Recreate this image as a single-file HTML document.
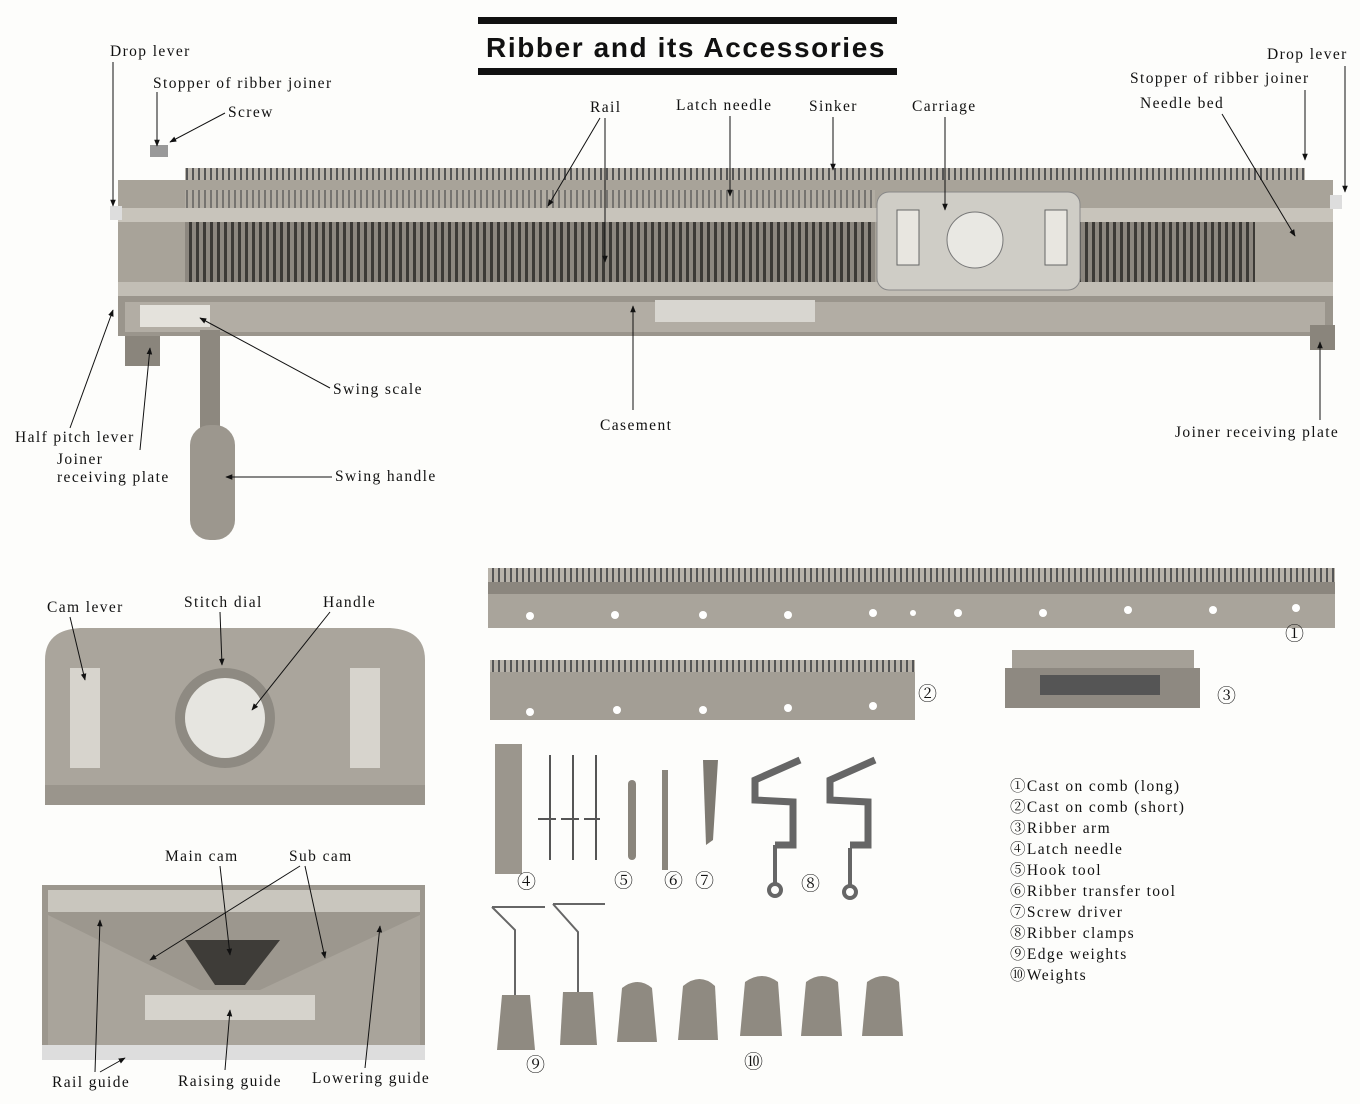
<!DOCTYPE html>
<html><head><meta charset="utf-8"><style>
html,body{margin:0;padding:0;background:#fff;}
svg{display:block;}
text{font-family:"Liberation Serif","Noto Serif CJK SC",serif;font-size:15.5px;letter-spacing:1.4px;fill:#111;}
.t{font-family:"Liberation Sans",sans-serif;font-size:28px;font-weight:bold;letter-spacing:1.6px;fill:#111;}
.c{font-size:19px;letter-spacing:0;}
</style></head><body>
<svg width="1360" height="1104" viewBox="0 0 1360 1104" xmlns="http://www.w3.org/2000/svg">
<defs>
<marker id="a" viewBox="0 0 10 10" refX="9" refY="5" markerWidth="7" markerHeight="7" orient="auto"><path d="M0,1 L10,5 L0,9 z" fill="#111"/></marker>
<pattern id="nd" width="7" height="10" patternUnits="userSpaceOnUse"><rect width="7" height="10" fill="#8c877f"/><rect x="0" width="3" height="10" fill="#3c3a36"/></pattern>
<pattern id="sk" width="6" height="10" patternUnits="userSpaceOnUse"><rect width="6" height="10" fill="#b8b3aa"/><rect width="2" height="10" fill="#555"/></pattern>
</defs>
<rect width="1360" height="1104" fill="#fdfdfb"/>
<rect x="478" y="17" width="419" height="7" fill="#111"/>
<rect x="478" y="68" width="419" height="7" fill="#111"/>
<text x="486" y="57" class="t">Ribber and its Accessories</text>

<rect x="185" y="168" width="1120" height="12" fill="url(#sk)"/>
<rect x="150" y="145" width="18" height="12" fill="#999"/>
<rect x="118" y="180" width="1215" height="120" fill="#a8a399"/>
<rect x="118" y="208" width="1215" height="14" fill="#c8c4bb"/>
<rect x="185" y="190" width="690" height="18" fill="url(#sk)" opacity="0.6"/>
<rect x="185" y="222" width="690" height="60" fill="url(#nd)"/>
<rect x="1080" y="222" width="175" height="60" fill="url(#nd)"/>
<rect x="118" y="282" width="1215" height="14" fill="#c2beb5"/>
<rect x="110" y="206" width="12" height="14" fill="#ddd"/>
<rect x="1330" y="195" width="12" height="14" fill="#ddd"/>
<rect x="118" y="296" width="1215" height="40" fill="#9a958c"/>
<rect x="125" y="302" width="1200" height="30" fill="#b2ada4"/>
<rect x="140" y="305" width="70" height="22" fill="#e4e2dc"/>
<rect x="655" y="300" width="160" height="22" fill="#d8d6d0"/>
<rect x="125" y="336" width="35" height="30" fill="#8a857c"/>
<rect x="1310" y="325" width="25" height="25" fill="#8a857c"/>
<rect x="877" y="192" width="203" height="98" rx="12" fill="#cfcdc6" stroke="#888"/>
<rect x="897" y="210" width="22" height="55" fill="#e8e6e0" stroke="#666"/>
<rect x="1045" y="210" width="22" height="55" fill="#e8e6e0" stroke="#666"/>
<circle cx="975" cy="240" r="28" fill="#e9e8e3" stroke="#777"/>
<rect x="200" y="330" width="20" height="100" fill="#8d887f"/>
<rect x="190" y="425" width="45" height="115" rx="20" fill="#9c978e"/>

<text x="110" y="56">Drop lever</text>
<line x1="113" y1="62" x2="113" y2="206" stroke="#111" marker-end="url(#a)"/>
<text x="153" y="88">Stopper of ribber joiner</text>
<line x1="157" y1="92" x2="157" y2="146" stroke="#111" marker-end="url(#a)"/>
<text x="228" y="117">Screw</text>
<line x1="225" y1="113" x2="170" y2="142" stroke="#111" marker-end="url(#a)"/>
<text x="590" y="112">Rail</text>
<line x1="600" y1="118" x2="548" y2="206" stroke="#111" marker-end="url(#a)"/>
<line x1="605" y1="118" x2="605" y2="262" stroke="#111" marker-end="url(#a)"/>
<text x="676" y="110">Latch needle</text>
<line x1="730" y1="116" x2="730" y2="196" stroke="#111" marker-end="url(#a)"/>
<text x="809" y="111">Sinker</text>
<line x1="833" y1="117" x2="833" y2="170" stroke="#111" marker-end="url(#a)"/>
<text x="912" y="111">Carriage</text>
<line x1="945" y1="117" x2="945" y2="210" stroke="#111" marker-end="url(#a)"/>
<text x="1267" y="59">Drop lever</text>
<line x1="1345" y1="66" x2="1345" y2="192" stroke="#111" marker-end="url(#a)"/>
<text x="1130" y="83">Stopper of ribber joiner</text>
<line x1="1305" y1="90" x2="1305" y2="160" stroke="#111" marker-end="url(#a)"/>
<text x="1140" y="108">Needle bed</text>
<line x1="1222" y1="114" x2="1295" y2="236" stroke="#111" marker-end="url(#a)"/>
<text x="15" y="442">Half pitch lever</text>
<line x1="70" y1="428" x2="113" y2="310" stroke="#111" marker-end="url(#a)"/>
<text x="57" y="464">Joiner</text>
<text x="57" y="482">receiving plate</text>
<line x1="140" y1="450" x2="150" y2="348" stroke="#111" marker-end="url(#a)"/>
<text x="333" y="394">Swing scale</text>
<line x1="330" y1="388" x2="200" y2="318" stroke="#111" marker-end="url(#a)"/>
<text x="600" y="430">Casement</text>
<line x1="633" y1="410" x2="633" y2="306" stroke="#111" marker-end="url(#a)"/>
<text x="1175" y="437">Joiner receiving plate</text>
<line x1="1320" y1="420" x2="1320" y2="342" stroke="#111" marker-end="url(#a)"/>
<text x="335" y="481">Swing handle</text>
<line x1="332" y1="477" x2="226" y2="477" stroke="#111" marker-end="url(#a)"/>

<path d="M45,660 Q45,630 80,628 L390,628 Q425,630 425,660 L425,805 L45,805 Z" fill="#aaa59c"/>
<rect x="45" y="785" width="380" height="20" fill="#9a958c"/>
<rect x="70" y="668" width="30" height="100" fill="#d7d4cd"/>
<rect x="350" y="668" width="30" height="100" fill="#d7d4cd"/>
<circle cx="225" cy="718" r="50" fill="#8e8a82"/>
<circle cx="225" cy="718" r="40" fill="#e6e5e0"/>
<text x="47" y="612">Cam lever</text>
<line x1="70" y1="617" x2="85" y2="680" stroke="#111" marker-end="url(#a)"/>
<text x="184" y="607">Stitch dial</text>
<line x1="220" y1="612" x2="222" y2="665" stroke="#111" marker-end="url(#a)"/>
<text x="323" y="607">Handle</text>
<line x1="330" y1="612" x2="252" y2="710" stroke="#111" marker-end="url(#a)"/>

<rect x="42" y="885" width="383" height="175" fill="#9c978e"/>
<rect x="48" y="890" width="372" height="22" fill="#c9c6be"/>
<path d="M48,915 L200,990 L260,990 L420,915 L420,1045 L48,1045 Z" fill="#a9a49b"/>
<path d="M185,940 L280,940 L245,985 L215,985 Z" fill="#3e3c38"/>
<rect x="145" y="995" width="170" height="25" fill="#d6d3cc"/>
<rect x="42" y="1045" width="383" height="15" fill="#ddd"/>
<text x="165" y="861">Main cam</text>
<line x1="220" y1="866" x2="230" y2="955" stroke="#111" marker-end="url(#a)"/>
<text x="289" y="861">Sub cam</text>
<line x1="300" y1="866" x2="150" y2="960" stroke="#111" marker-end="url(#a)"/>
<line x1="305" y1="866" x2="325" y2="958" stroke="#111" marker-end="url(#a)"/>
<text x="52" y="1087">Rail guide</text>
<line x1="95" y1="1072" x2="100" y2="920" stroke="#111" marker-end="url(#a)"/>
<line x1="100" y1="1072" x2="125" y2="1058" stroke="#111" marker-end="url(#a)"/>
<text x="178" y="1086">Raising guide</text>
<line x1="225" y1="1070" x2="230" y2="1010" stroke="#111" marker-end="url(#a)"/>
<text x="312" y="1083">Lowering guide</text>
<line x1="365" y1="1068" x2="380" y2="926" stroke="#111" marker-end="url(#a)"/>

<rect x="488" y="568" width="847" height="14" fill="url(#sk)"/>
<rect x="488" y="582" width="847" height="12" fill="#8b867e"/>
<rect x="488" y="594" width="847" height="34" fill="#a9a49b"/>
<g fill="#fff"><circle cx="530" cy="616" r="4"/><circle cx="615" cy="615" r="4"/><circle cx="703" cy="615" r="4"/><circle cx="788" cy="615" r="4"/><circle cx="873" cy="613" r="4"/><circle cx="913" cy="613" r="3"/><circle cx="958" cy="613" r="4"/><circle cx="1043" cy="613" r="4"/><circle cx="1128" cy="610" r="4"/><circle cx="1213" cy="610" r="4"/><circle cx="1296" cy="608" r="4"/></g>
<text x="1285" y="640" class="c">①</text>
<rect x="490" y="660" width="425" height="12" fill="url(#sk)"/>
<rect x="490" y="672" width="425" height="48" fill="#a39e95"/>
<g fill="#fff"><circle cx="530" cy="712" r="4"/><circle cx="617" cy="710" r="4"/><circle cx="703" cy="710" r="4"/><circle cx="788" cy="708" r="4"/><circle cx="873" cy="706" r="4"/></g>
<text x="918" y="700" class="c">②</text>
<rect x="1012" y="650" width="182" height="18" fill="#a5a097"/>
<rect x="1005" y="668" width="195" height="40" fill="#8e8981"/>
<rect x="1040" y="675" width="120" height="20" fill="#555"/>
<text x="1217" y="702" class="c">③</text>

<rect x="495" y="744" width="27" height="130" fill="#9b968d"/>
<g stroke="#555" stroke-width="2"><line x1="550" y1="755" x2="550" y2="860"/><line x1="573" y1="755" x2="573" y2="860"/><line x1="596" y1="755" x2="596" y2="860"/><line x1="538" y1="819" x2="556" y2="819"/><line x1="561" y1="819" x2="579" y2="819"/><line x1="584" y1="819" x2="600" y2="819"/></g>
<rect x="628" y="780" width="8" height="80" rx="4" fill="#8a857c"/>
<rect x="662" y="770" width="6" height="100" fill="#8a857c"/>
<path d="M703,760 L718,760 L713,840 L706,845 Z" fill="#7e7a72"/>
<g fill="none" stroke="#666" stroke-width="7"><path d="M800,760 L755,780 L755,800 L793,802 L793,845 L775,845"/><path d="M875,760 L830,780 L830,800 L868,802 L868,845 L850,845"/></g>
<g stroke="#666" stroke-width="4" fill="none"><line x1="775" y1="845" x2="775" y2="885"/><circle cx="775" cy="890" r="6"/><line x1="850" y1="848" x2="850" y2="885"/><circle cx="850" cy="892" r="6"/></g>
<text x="517" y="888" class="c">④</text>
<text x="614" y="887" class="c">⑤</text>
<text x="664" y="887" class="c">⑥</text>
<text x="695" y="887" class="c">⑦</text>
<text x="801" y="890" class="c">⑧</text>
<g fill="none" stroke="#666" stroke-width="2"><path d="M492,907 L545,907 M492,907 L515,930 L515,995"/><path d="M553,904 L605,904 M553,904 L578,932 L578,993"/></g>
<g fill="#8f8a81">
<path d="M502,995 L530,995 L535,1050 L497,1050 Z"/>
<path d="M563,992 L593,992 L597,1045 L560,1045 Z"/>
<path d="M622,988 Q638,976 652,988 L657,1042 L617,1042 Z"/>
<path d="M683,986 Q700,972 715,986 L718,1040 L678,1040 Z"/>
<path d="M745,982 Q762,970 778,982 L782,1036 L740,1036 Z"/>
<path d="M806,982 Q822,970 838,982 L842,1036 L801,1036 Z"/>
<path d="M867,982 Q884,970 899,982 L903,1036 L862,1036 Z"/>
</g>
<text x="526" y="1071" class="c">⑨</text>
<text x="744" y="1068" class="c">⑩</text>

<g>
<text x="1010" y="791">①Cast on comb (long)</text>
<text x="1010" y="812">②Cast on comb (short)</text>
<text x="1010" y="833">③Ribber arm</text>
<text x="1010" y="854">④Latch needle</text>
<text x="1010" y="875">⑤Hook tool</text>
<text x="1010" y="896">⑥Ribber transfer tool</text>
<text x="1010" y="917">⑦Screw driver</text>
<text x="1010" y="938">⑧Ribber clamps</text>
<text x="1010" y="959">⑨Edge weights</text>
<text x="1010" y="980">⑩Weights</text>
</g>
</svg>
</body></html>
